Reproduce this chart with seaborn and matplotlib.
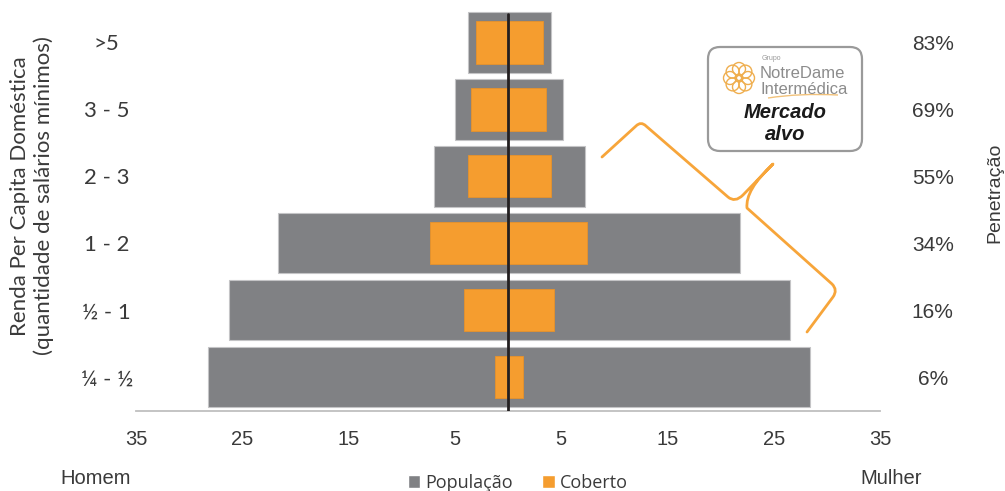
import numpy as np
import pandas as pd
import matplotlib
matplotlib.use("Agg")
import matplotlib.pyplot as plt
import seaborn as sns
from matplotlib.patches import Patch, FancyBboxPatch, Circle, PathPatch
from matplotlib.path import Path
from matplotlib.transforms import Affine2D

# ---------------- data ----------------
categories = [">5", "3 - 5", "2 - 3", "1 - 2", "½ - 1", "¼ - ½"]
populacao_homem = [3.8, 5.0, 7.0, 21.65, 26.25, 28.2]
populacao_mulher = [4.0, 5.15, 7.2, 21.8, 26.5, 28.45]
coberto_homem = [3.05, 3.45, 3.75, 7.3, 4.15, 1.25]
coberto_mulher = [3.3, 3.6, 4.0, 7.4, 4.35, 1.45]
penetracao = ["83%", "69%", "55%", "34%", "16%", "6%"]
xtick_values = [-35, -25, -15, -5, 5, 15, 25, 35]
xtick_labels = ["35", "25", "15", "5", "5", "15", "25", "35"]

GRAY = "#808184"
ORANGE = "#F59D2F"
TXT = "#3a3a3a"

df = pd.DataFrame({
    "cat": categories,
    "pop_h": [-v for v in populacao_homem],
    "pop_m": populacao_mulher,
    "cob_h": [-v for v in coberto_homem],
    "cob_m": coberto_mulher,
})

sns.set_theme(style="white")
plt.rcParams["font.family"] = ["Liberation Sans", "DejaVu Sans"]

W, H = 1005, 491
fig = plt.figure(figsize=(W / 100, H / 100), dpi=100)
ax = fig.add_axes([136 / W, 80.3 / H, 744 / W, 401.7 / H])

common = dict(y="cat", order=categories, orient="h", ax=ax, saturation=1)
sns.barplot(data=df, x="pop_h", color=GRAY, width=0.9, edgecolor="#c4c4c6", linewidth=0.8, **common)
sns.barplot(data=df, x="pop_m", color=GRAY, width=0.9, edgecolor="#c4c4c6", linewidth=0.8, **common)
sns.barplot(data=df, x="cob_h", color=ORANGE, width=0.63, edgecolor="#e8922a", linewidth=0.6, **common)
sns.barplot(data=df, x="cob_m", color=ORANGE, width=0.63, edgecolor="#e8922a", linewidth=0.6, **common)

ax.set_xlim(-35, 35)
ax.set_ylim(5.5, -0.5)
ax.axvline(0, ymin=0, ymax=0.988, color="#231f20", lw=2, zorder=5)

ax.set_xticks(xtick_values)
ax.set_xticklabels(xtick_labels, fontsize=14.5, color=TXT)
ax.tick_params(axis="x", length=0, pad=14)
ax.set_yticks(range(len(categories)))
ax.set_yticklabels(categories, fontsize=16, color=TXT, family=["Lato", "DejaVu Sans"], ha="center")
ax.tick_params(axis="y", length=0, pad=21)
ax.set_xlabel("")
ax.set_ylabel("")
for s in ["top", "left", "right"]:
    ax.spines[s].set_visible(False)
ax.spines["bottom"].set_color("#bfbfbf")
ax.spines["bottom"].set_linewidth(1.3)

# right axis: penetration
ax2 = ax.twinx()
ax2.set_ylim(5.5, -0.5)
ax2.set_yticks(range(len(penetracao)))
ax2.set_yticklabels(penetracao, fontsize=15, color=TXT, ha="center")
ax2.tick_params(axis="y", length=0, pad=38)
for s in ["top", "left", "right", "bottom"]:
    ax2.spines[s].set_visible(False)
ax2.grid(False)

# pixel transform (top-left origin)
tr = Affine2D().scale(1, -1).translate(0, H)

def ftxt(x, y, s, **kw):
    fig.text(x / W, 1 - y / H, s, **kw)

ftxt(32, 196, "Renda Per Capita Doméstica\n(quantidade de salários mínimos)", rotation=90,
     ha="center", va="center", fontsize=16, color=TXT, family=["Lato", "DejaVu Sans"], linespacing=1.2)
ftxt(995, 193, "Penetração", rotation=90, ha="center", va="center", fontsize=14, color=TXT)
ftxt(96, 478, "Homem", ha="center", va="center", fontsize=14.5, color=TXT)
ftxt(891, 478, "Mulher", ha="center", va="center", fontsize=14.5, color=TXT)

handles = [Patch(facecolor=GRAY, label="População"), Patch(facecolor=ORANGE, label="Coberto")]
fig.legend(handles=handles, loc="center", bbox_to_anchor=(518 / W, 1 - 483 / H), ncol=2, frameon=False,
           handlelength=0.7, handleheight=0.7, handletextpad=0.3, columnspacing=1.6,
           prop={"family": ["Open Sans", "DejaVu Sans"], "size": 13}, labelcolor=TXT)

# logo box
box = FancyBboxPatch((708, 47), 154, 104, boxstyle="round,pad=0,rounding_size=12",
                     transform=tr, facecolor="white", edgecolor="#9a9a9a", lw=1.6)
fig.add_artist(box)
# mandala icon
cx, cy = 739, 78
LOGO = "#EFAE4E"
fig.add_artist(Circle((cx, cy), 4, transform=tr, fill=False, ec=LOGO, lw=1))
for k in range(8):
    a = k * np.pi / 4
    fig.add_artist(Circle((cx + 9 * np.cos(a), cy + 9 * np.sin(a)), 6.5, transform=tr, fill=False, ec=LOGO, lw=1))
ftxt(762, 58, "Grupo", fontsize=5, color="#999999", va="center", ha="left")
ftxt(760, 73, "NotreDame", fontsize=12, color="#8c8c8c", va="center", ha="left")
ftxt(760, 89, "Intermédica", fontsize=12, color="#8c8c8c", va="center", ha="left")
sw = Path([(768, 98), (800, 93), (838, 95)], [Path.MOVETO, Path.CURVE3, Path.CURVE3])
fig.add_artist(PathPatch(sw, transform=tr, fill=False, ec="#F2C27A", lw=1))
ftxt(785, 112, "Mercado", fontsize=14.5, weight="bold", style="italic", color="#1a1a1a", ha="center", va="center")
ftxt(785, 134, "alvo", fontsize=14.5, weight="bold", style="italic", color="#1a1a1a", ha="center", va="center")

# orange brace annotation
verts = [(602, 157), (636, 126), (641, 121), (646, 126), (728, 197), (735, 203), (743, 195), (773, 164),
         (745, 190), (747, 208), (832, 284), (838, 290), (833, 297), (807, 332)]
codes = [Path.MOVETO, Path.LINETO, Path.CURVE3, Path.CURVE3, Path.LINETO, Path.CURVE3, Path.CURVE3, Path.LINETO,
         Path.CURVE3, Path.CURVE3, Path.LINETO, Path.CURVE3, Path.CURVE3, Path.LINETO]
fig.add_artist(PathPatch(Path(verts, codes), transform=tr, fill=False, ec="#F7A53A", lw=2, capstyle="round", joinstyle="round"))

fig.savefig("out.png", dpi=100)
